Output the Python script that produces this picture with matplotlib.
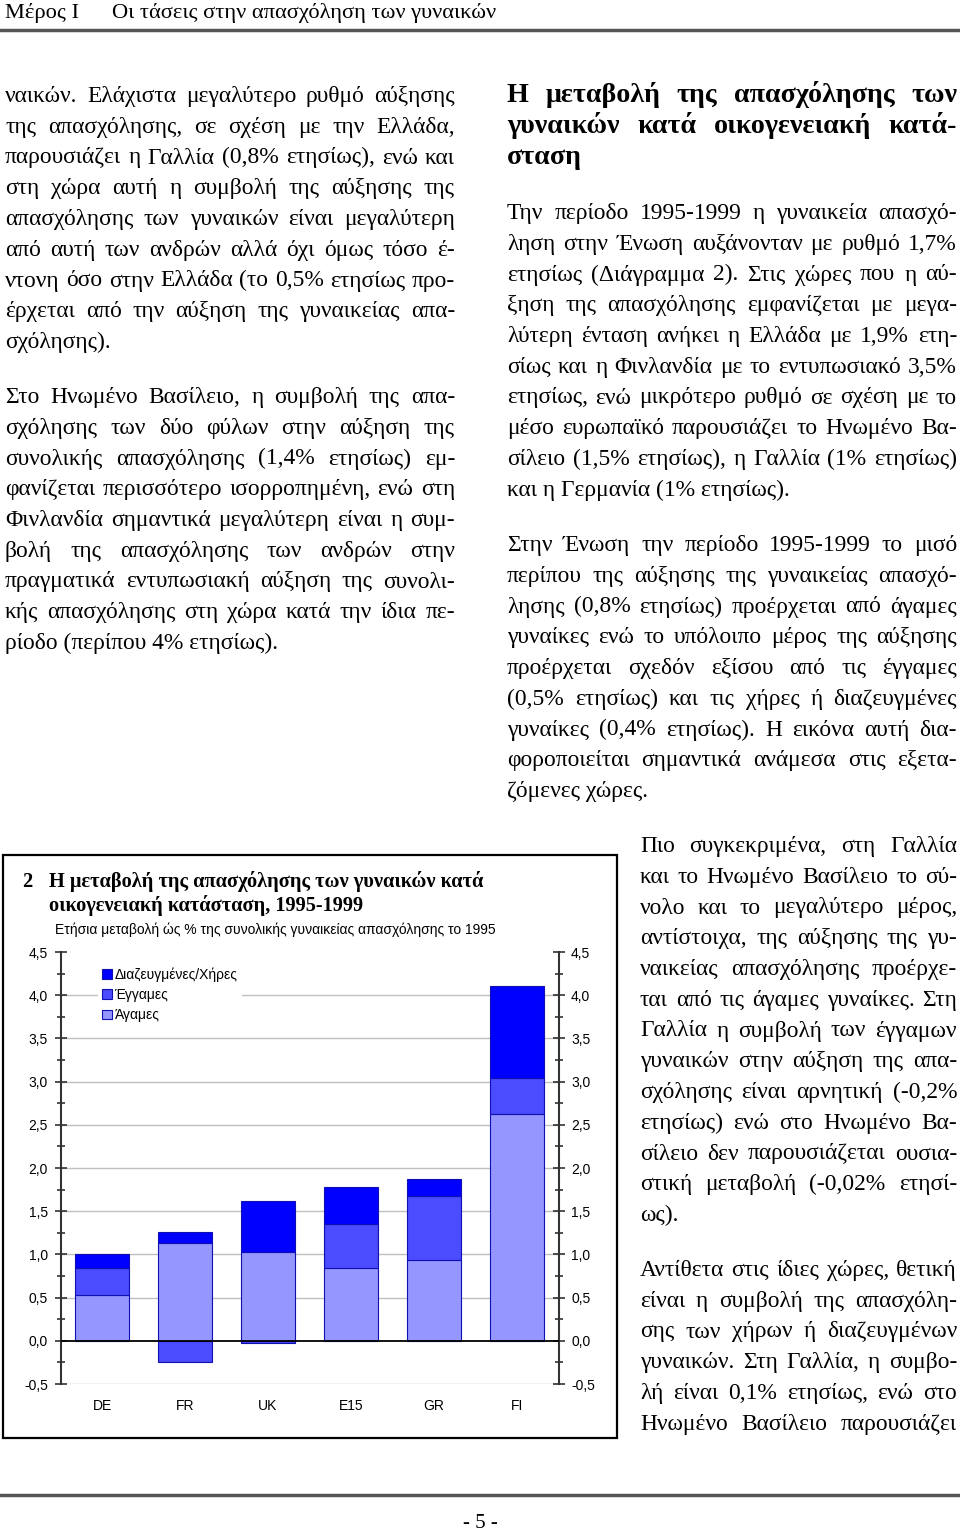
import matplotlib.pyplot as plt
import numpy as np

W, H = 960, 1530

# chart data (annual change, % of total female employment 1995)
countries = ["DE", "FR", "UK", "E15", "GR", "FI"]
single = [0.53, 1.13, 1.03, 0.84, 0.93, 2.62]
married = [0.31, -0.24, -0.03, 0.51, 0.75, 0.42]
widowed = [0.16, 0.13, 0.59, 0.43, 0.19, 1.07]
series_labels = ["Άγαμες", "Έγγαμες", "Διαζευγμένες/Χήρες"]
series_colors = ["#9696FF", "#4B4BFF", "#0000FF"]
yticks = [-0.5, 0.0, 0.5, 1.0, 1.5, 2.0, 2.5, 3.0, 3.5, 4.0, 4.5]
yminor = [-0.25, 0.25, 0.75, 1.25, 1.75, 2.25, 2.75, 3.25, 3.75, 4.25]

chart_title = ["Η μεταβολή της απασχόλησης των γυναικών κατά",
               "οικογενειακή κατάσταση, 1995-1999"]
chart_subtitle = "Ετήσια μεταβολή ώς % της συνολικής γυναικείας απασχόλησης το 1995"

left_p1 = [
    "ναικών. Ελάχιστα μεγαλύτερο ρυθμό αύξησης",
    "της απασχόλησης, σε σχέση με την Ελλάδα,",
    "παρουσιάζει η Γαλλία (0,8% ετησίως), ενώ και",
    "στη χώρα αυτή η συμβολή της αύξησης της",
    "απασχόλησης των γυναικών είναι μεγαλύτερη",
    "από αυτή των ανδρών αλλά όχι όμως τόσο έ-",
    "ντονη όσο στην Ελλάδα (το 0,5% ετησίως προ-",
    "έρχεται από την αύξηση της γυναικείας απα-",
    "σχόλησης).",
]
left_p2 = [
    "Στο Ηνωμένο Βασίλειο, η συμβολή της απα-",
    "σχόλησης των δύο φύλων στην αύξηση της",
    "συνολικής απασχόλησης (1,4% ετησίως) εμ-",
    "φανίζεται περισσότερο ισορροπημένη, ενώ στη",
    "Φινλανδία σημαντικά μεγαλύτερη είναι η συμ-",
    "βολή της απασχόλησης των ανδρών στην",
    "πραγματικά εντυπωσιακή αύξηση της συνολι-",
    "κής απασχόλησης στη χώρα κατά την ίδια πε-",
    "ρίοδο (περίπου 4% ετησίως).",
]
heading = [
    "Η μεταβολή της απασχόλησης των",
    "γυναικών κατά οικογενειακή κατά-",
    "σταση",
]
right_p1 = [
    "Την περίοδο 1995-1999 η γυναικεία απασχό-",
    "ληση στην Ένωση αυξάνονταν με ρυθμό 1,7%",
    "ετησίως (Διάγραμμα 2). Στις χώρες που η αύ-",
    "ξηση της απασχόλησης εμφανίζεται με μεγα-",
    "λύτερη ένταση ανήκει η Ελλάδα με 1,9% ετη-",
    "σίως και η Φινλανδία με το εντυπωσιακό 3,5%",
    "ετησίως, ενώ μικρότερο ρυθμό σε σχέση με το",
    "μέσο ευρωπαϊκό παρουσιάζει το Ηνωμένο Βα-",
    "σίλειο (1,5% ετησίως), η Γαλλία (1% ετησίως)",
    "και η Γερμανία (1% ετησίως).",
]
right_p2 = [
    "Στην Ένωση την περίοδο 1995-1999 το μισό",
    "περίπου της αύξησης της γυναικείας απασχό-",
    "λησης (0,8% ετησίως) προέρχεται από άγαμες",
    "γυναίκες ενώ το υπόλοιπο μέρος της αύξησης",
    "προέρχεται σχεδόν εξίσου από τις έγγαμες",
    "(0,5% ετησίως) και τις χήρες ή διαζευγμένες",
    "γυναίκες (0,4% ετησίως). Η εικόνα αυτή δια-",
    "φοροποιείται σημαντικά ανάμεσα στις εξετα-",
    "ζόμενες χώρες.",
]
side_p1 = [
    "Πιο συγκεκριμένα, στη Γαλλία",
    "και το Ηνωμένο Βασίλειο το σύ-",
    "νολο και το μεγαλύτερο μέρος,",
    "αντίστοιχα, της αύξησης της γυ-",
    "ναικείας απασχόλησης προέρχε-",
    "ται από τις άγαμες γυναίκες. Στη",
    "Γαλλία η συμβολή των έγγαμων",
    "γυναικών στην αύξηση της απα-",
    "σχόλησης είναι αρνητική (-0,2%",
    "ετησίως) ενώ στο Ηνωμένο Βα-",
    "σίλειο δεν παρουσιάζεται ουσια-",
    "στική μεταβολή (-0,02% ετησί-",
    "ως).",
]
side_p2 = [
    "Αντίθετα στις ίδιες χώρες, θετική",
    "είναι η συμβολή της απασχόλη-",
    "σης των χήρων ή διαζευγμένων",
    "γυναικών. Στη Γαλλία, η συμβο-",
    "λή είναι 0,1% ετησίως, ενώ στο",
    "Ηνωμένο Βασίλειο παρουσιάζει",
]

SERIF = "Liberation Serif"
SANS = "Liberation Sans"
BODY = 16.9
DY = 30.75

fig = plt.figure(figsize=(W / 100, H / 100), dpi=100)
renderer = fig.canvas.get_renderer()


def fx(x):
    return x / W


def fy(y):
    return 1 - y / H


def put(x, y, s, **kw):
    return fig.text(fx(x), fy(y), s, **kw)


def justify(lines, x0, x1, y0, size=BODY, weight="normal", full_last=False, off=7):
    for i, line in enumerate(lines):
        base = y0 + i * DY + off
        words = line.split()
        style = dict(family=SERIF, size=size, weight=weight, va="baseline")
        if (i == len(lines) - 1 and not full_last) or len(words) == 1:
            put(x0, base, line, **style)
            continue
        texts = [put(0, base, w, **style) for w in words]
        widths = [t.get_window_extent(renderer).width for t in texts]
        gap = (x1 - x0 - sum(widths)) / (len(words) - 1)
        x = x0
        for t, w in zip(texts, widths):
            t.set_x(fx(x))
            x += w + gap


# page header / footer
put(5, 18, "Μέρος Ι", family=SERIF, size=16.2, va="baseline")
put(112, 18, "Οι τάσεις στην απασχόληση των γυναικών", family=SERIF, size=16.2, va="baseline")
fig.add_artist(plt.Line2D([0, 1], [fy(30), fy(30)], color="#555555", lw=2.5))
fig.add_artist(plt.Line2D([0, 1], [fy(1495), fy(1495)], color="#555555", lw=2.5))
put(480, 1528, "- 5 -", family=SERIF, size=15, ha="center", va="baseline")

# text columns
justify(left_p1, 5, 455, 95)
justify(left_p2, 5, 455, 396)
justify(heading, 507, 957, 94, size=20.2, weight="bold", off=8)
justify(right_p1, 507, 957, 212)
justify(right_p2, 507, 957, 544)
justify(side_p1, 640, 957, 845)
justify(side_p2, 640, 957, 1269, full_last=True)

# chart frame
fig.add_artist(plt.Rectangle((fx(3), fy(1438)), fx(614), 583 / H,
                             fill=False, edgecolor="black", lw=1.6))
put(22, 887, "2", family=SERIF, size=14.7, weight="bold", va="baseline")
for i, line in enumerate(chart_title):
    put(49, 887 + i * 24, line, family=SERIF, size=14.7, weight="bold", va="baseline")
put(55, 930, chart_subtitle, family=SANS, size=10, va="center")

ax = fig.add_axes([fx(60.5), fy(1384), 498 / W, 432 / H])
x = np.arange(len(countries))
pos_bottom = np.zeros(len(countries))
neg_bottom = np.zeros(len(countries))
for vals, color, label in zip([single, married, widowed], series_colors, series_labels):
    vals = np.array(vals)
    bottom = np.where(vals >= 0, pos_bottom, neg_bottom)
    ax.bar(x, vals, 0.66, bottom=bottom, color=color, edgecolor="#1010B0",
           linewidth=0.8, label=label, zorder=3)
    pos_bottom += np.clip(vals, 0, None)
    neg_bottom += np.clip(vals, None, 0)

for v in yticks[:-1]:
    if v == 0:
        ax.axhline(v, color="black", lw=1.3, zorder=4)
    else:
        ax.axhline(v, color="#c0c0c0", lw=1.0, zorder=1)

ax.set_xlim(-0.5, len(countries) - 0.5)
ax.set_ylim(yticks[0], yticks[-1])
ax.set_xticks(x)
ax.set_xticklabels(countries, family=SANS, size=10)
ax.set_yticks(yticks)
ax.set_yticklabels([f"{v:.1f}".replace(".", ",") for v in yticks], family=SANS, size=10)
ax.set_yticks(yminor, minor=True)
ax.tick_params(axis="x", length=0, pad=11)
ax.tick_params(axis="y", which="both", left=True, right=True, labelleft=True,
               labelright=True, direction="inout", color="#333333", width=1.2)
ax.tick_params(axis="y", which="major", length=8, pad=5)
ax.tick_params(axis="y", which="minor", length=6)
for s in ["top", "bottom"]:
    ax.spines[s].set_visible(False)
for s in ["left", "right"]:
    ax.spines[s].set_color("#333333")
    ax.spines[s].set_linewidth(1.5)

handles, labels = ax.get_legend_handles_labels()
ax.legend(handles[::-1], labels[::-1], loc="upper left", bbox_to_anchor=(0.061, 0.99),
          frameon=True, facecolor="white", edgecolor="none", framealpha=1, fancybox=False,
          handlelength=0.7, handleheight=0.7, handletextpad=0.2, labelspacing=0.45,
          borderpad=0.3, prop=dict(family=SANS, size=10))

fig.savefig("out.png", dpi=100)
